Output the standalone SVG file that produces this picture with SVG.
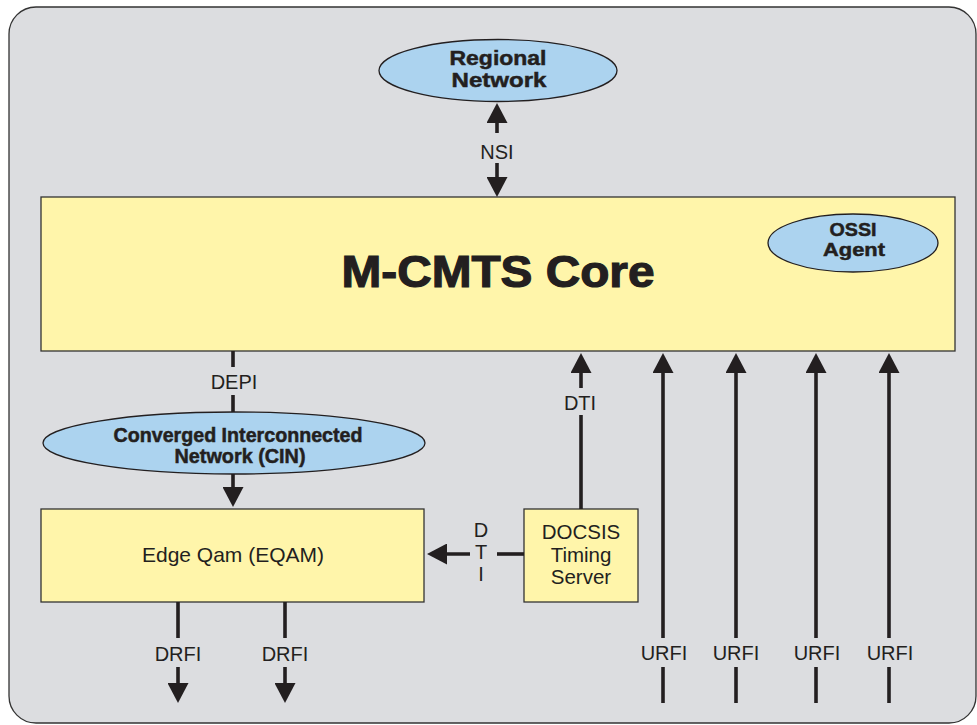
<svg xmlns="http://www.w3.org/2000/svg" width="977" height="725" viewBox="0 0 977 725">
  <defs>
    <marker id="ah" viewBox="0 0 20 21" markerWidth="20" markerHeight="21" markerUnits="userSpaceOnUse" refX="12" refY="10.5" orient="auto">
      <path d="M0,0 L20,10.5 L0,21 z" fill="#231f20"/>
    </marker>
    <style>
      .bg { fill: #dcdde0; stroke: #333; stroke-width: 1.3; }
      .box { fill: #fff5aa; stroke: #333; stroke-width: 1.3; }
      .ell { fill: #acd3ef; stroke: #231f20; stroke-width: 1.3; }
      .ln { stroke: #231f20; stroke-width: 3.6; fill: none; }
      .arr { stroke: #231f20; stroke-width: 3.6; fill: none; marker-end: url(#ah); }
      text { font-family: "Liberation Sans", Arial, Helvetica, sans-serif; fill: #231f20; text-anchor: middle; }
      .lbl { font-size: 20px; }
      .bold { font-weight: bold; stroke: #231f20; stroke-width: 0.5; }
      .core { font-weight: bold; stroke: #231f20; stroke-width: 1.2; }
    </style>
  </defs>

  <rect class="bg" x="9" y="7" width="967" height="716" rx="27" ry="27"/>

  <g id="regional-network">
    <ellipse class="ell" cx="498" cy="70.5" rx="119" ry="31"/>
    <text class="bold" x="498" y="65" font-size="21" textLength="97" lengthAdjust="spacingAndGlyphs">Regional</text>
    <text class="bold" x="499" y="87" font-size="21" textLength="95" lengthAdjust="spacingAndGlyphs">Network</text>
  </g>

  <g id="mcmts-core">
    <rect class="box" x="41" y="197" width="914" height="154"/>
    <text class="core" x="498" y="287" font-size="45" textLength="313" lengthAdjust="spacingAndGlyphs">M-CMTS Core</text>
  </g>

  <g id="ossi-agent">
    <ellipse class="ell" cx="853" cy="243" rx="85" ry="29"/>
    <text class="bold" x="853" y="236" font-size="19" textLength="47" lengthAdjust="spacingAndGlyphs">OSSI</text>
    <text class="bold" x="854" y="256" font-size="19" textLength="62" lengthAdjust="spacingAndGlyphs">Agent</text>
  </g>

  <g id="cin">
    <ellipse class="ell" cx="234" cy="443" rx="191" ry="31"/>
    <text class="bold" x="238" y="442" font-size="19.5" textLength="249" lengthAdjust="spacingAndGlyphs">Converged Interconnected</text>
    <text class="bold" x="240" y="463" font-size="19.5" textLength="131" lengthAdjust="spacingAndGlyphs">Network (CIN)</text>
  </g>

  <g id="eqam">
    <rect class="box" x="41" y="509" width="383" height="93"/>
    <text x="233" y="562" font-size="21">Edge Qam (EQAM)</text>
  </g>

  <g id="dts">
    <rect class="box" x="524" y="509" width="114" height="93"/>
    <text x="581" y="539" font-size="20.5">DOCSIS</text>
    <text x="581" y="562" font-size="20.5">Timing</text>
    <text x="581" y="584" font-size="20.5">Server</text>
  </g>

  <g id="connectors">
    <!-- NSI -->
    <path class="arr" d="M497,133 L497,111"/>
    <path class="arr" d="M497,163 L497,189"/>
    <text class="lbl" x="497" y="159">NSI</text>

    <!-- DEPI -->
    <path class="ln" d="M233,351 L233,367"/>
    <path class="ln" d="M233,395 L233,412"/>
    <text class="lbl" x="234" y="389">DEPI</text>

    <!-- CIN to EQAM -->
    <path class="arr" d="M233,474 L233,499"/>

    <!-- DRFI -->
    <path class="ln" d="M178,602 L178,638"/>
    <path class="arr" d="M178,667 L178,695"/>
    <text class="lbl" x="178" y="661">DRFI</text>
    <path class="ln" d="M285,602 L285,638"/>
    <path class="arr" d="M285,667 L285,695"/>
    <text class="lbl" x="285" y="661">DRFI</text>

    <!-- DTI vertical -->
    <path class="ln" d="M581,509 L581,415"/>
    <path class="arr" d="M581,388 L581,361"/>
    <text class="lbl" x="580" y="410">DTI</text>

    <!-- DTI horizontal -->
    <path class="ln" d="M524,554 L497,554"/>
    <path class="arr" d="M470,554 L435,554"/>
    <text class="lbl" x="481" y="537">D</text>
    <text class="lbl" x="481" y="559">T</text>
    <text class="lbl" x="481" y="581">I</text>

    <!-- URFI -->
    <path class="ln" d="M663,703 L663,667"/>
    <path class="arr" d="M663,638 L663,361"/>
    <text class="lbl" x="664" y="660">URFI</text>
    <path class="ln" d="M736,703 L736,667"/>
    <path class="arr" d="M736,638 L736,361"/>
    <text class="lbl" x="736" y="660">URFI</text>
    <path class="ln" d="M816,703 L816,667"/>
    <path class="arr" d="M816,638 L816,361"/>
    <text class="lbl" x="817" y="660">URFI</text>
    <path class="ln" d="M889,703 L889,667"/>
    <path class="arr" d="M889,638 L889,361"/>
    <text class="lbl" x="890" y="660">URFI</text>
  </g>
</svg>
